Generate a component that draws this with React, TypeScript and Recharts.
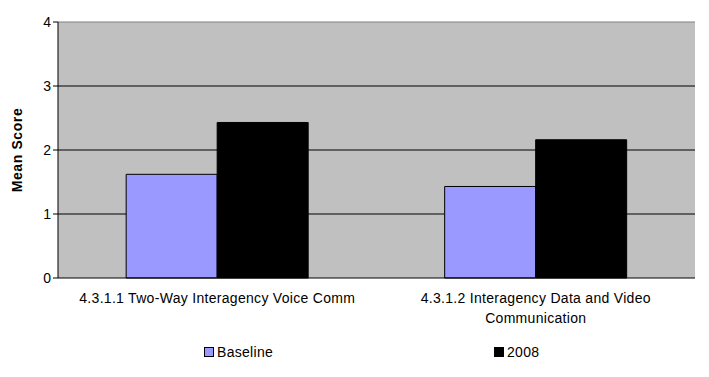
import { BarChart, Bar, XAxis, YAxis, CartesianGrid, Legend, ReferenceLine, Text } from 'recharts';

const categories = [
  '4.3.1.1 Two-Way Interagency Voice Comm',
  '4.3.1.2 Interagency Data and Video Communication',
];
const baseline = [1.62, 1.43];
const y2008 = [2.43, 2.16];
const yTicks = [0, 1, 2, 3, 4];

const data = categories.map((name, i) => ({ name, baseline: baseline[i], y2008: y2008[i] }));

const FONT = '"Liberation Sans", Arial, sans-serif';

const CategoryTick = (props: any) => {
  const { x, y, payload } = props;
  return (
    <Text
      x={x}
      y={y + 7}
      width={305}
      textAnchor="middle"
      verticalAnchor="start"
      lineHeight={20}
      style={{ fontFamily: FONT, fontSize: '14px', letterSpacing: '0.3px', fill: '#000' }}
    >
      {payload.value}
    </Text>
  );
};

const legendPos: Record<string, number> = { Baseline: 204, '2008': 494 };

const LegendContent = (props: any) => {
  const items = props.payload ?? [];
  return (
    <div style={{ position: 'relative', width: 709, height: 20, fontFamily: FONT, fontSize: 14, letterSpacing: '0.3px' }}>
      {items.map((it: any) => (
        <div
          key={it.value}
          style={{ position: 'absolute', left: legendPos[it.value] ?? 0, top: 0, display: 'flex', alignItems: 'center' }}
        >
          <span
            style={{
              display: 'inline-block',
              width: 8,
              height: 8,
              background: it.color,
              border: '1px solid #000',
              marginRight: 3,
            }}
          />
          <span>{it.value}</span>
        </div>
      ))}
    </div>
  );
};

export default function App() {
  return (
    <div style={{ position: 'absolute', left: 0, top: 0, background: '#fff' }}>
      <BarChart
        width={709}
        height={377}
        data={data}
        margin={{ top: 22, right: 14, left: 0, bottom: 49 }}
        barCategoryGap="21.4%"
        barGap={0}
      >
        <CartesianGrid
          vertical={false}
          horizontalValues={[1, 2, 3]}
          stroke="#000"
          fill="#C0C0C0"
          fillOpacity={1}
        />
        <XAxis
          dataKey="name"
          height={50}
          interval={0}
          axisLine={{ stroke: '#000' }}
          tickLine={false}
          tick={<CategoryTick />}
        />
        <YAxis
          domain={[0, 4]}
          ticks={yTicks}
          width={58}
          axisLine={{ stroke: '#000' }}
          tickLine={{ stroke: '#000' }}
          tickSize={5}
          tick={{ fill: '#000', fontSize: 14, fontFamily: FONT }}
          label={{
            value: 'Mean Score',
            angle: -90,
            position: 'insideLeft',
            offset: 17,
            style: {
              fontFamily: FONT,
              fontSize: 14,
              fontWeight: 'bold',
              letterSpacing: '0.6px',
              fill: '#000',
              textAnchor: 'middle',
            },
          }}
        />
        <YAxis
          yAxisId="right"
          orientation="right"
          width={0}
          domain={[0, 4]}
          tick={false}
          tickLine={false}
          axisLine={{ stroke: '#808080' }}
        />
        <ReferenceLine y={4} stroke="#808080" />
        <Legend
          layout="horizontal"
          verticalAlign="middle"
          align="center"
          wrapperStyle={{ top: 344, left: 0 }}
          content={<LegendContent />}
        />
        <Bar dataKey="baseline" name="Baseline" fill="#9999FF" stroke="#000" strokeWidth={1} isAnimationActive={false} />
        <Bar dataKey="y2008" name="2008" fill="#000" stroke="#000" strokeWidth={1} isAnimationActive={false} />
      </BarChart>
    </div>
  );
}
